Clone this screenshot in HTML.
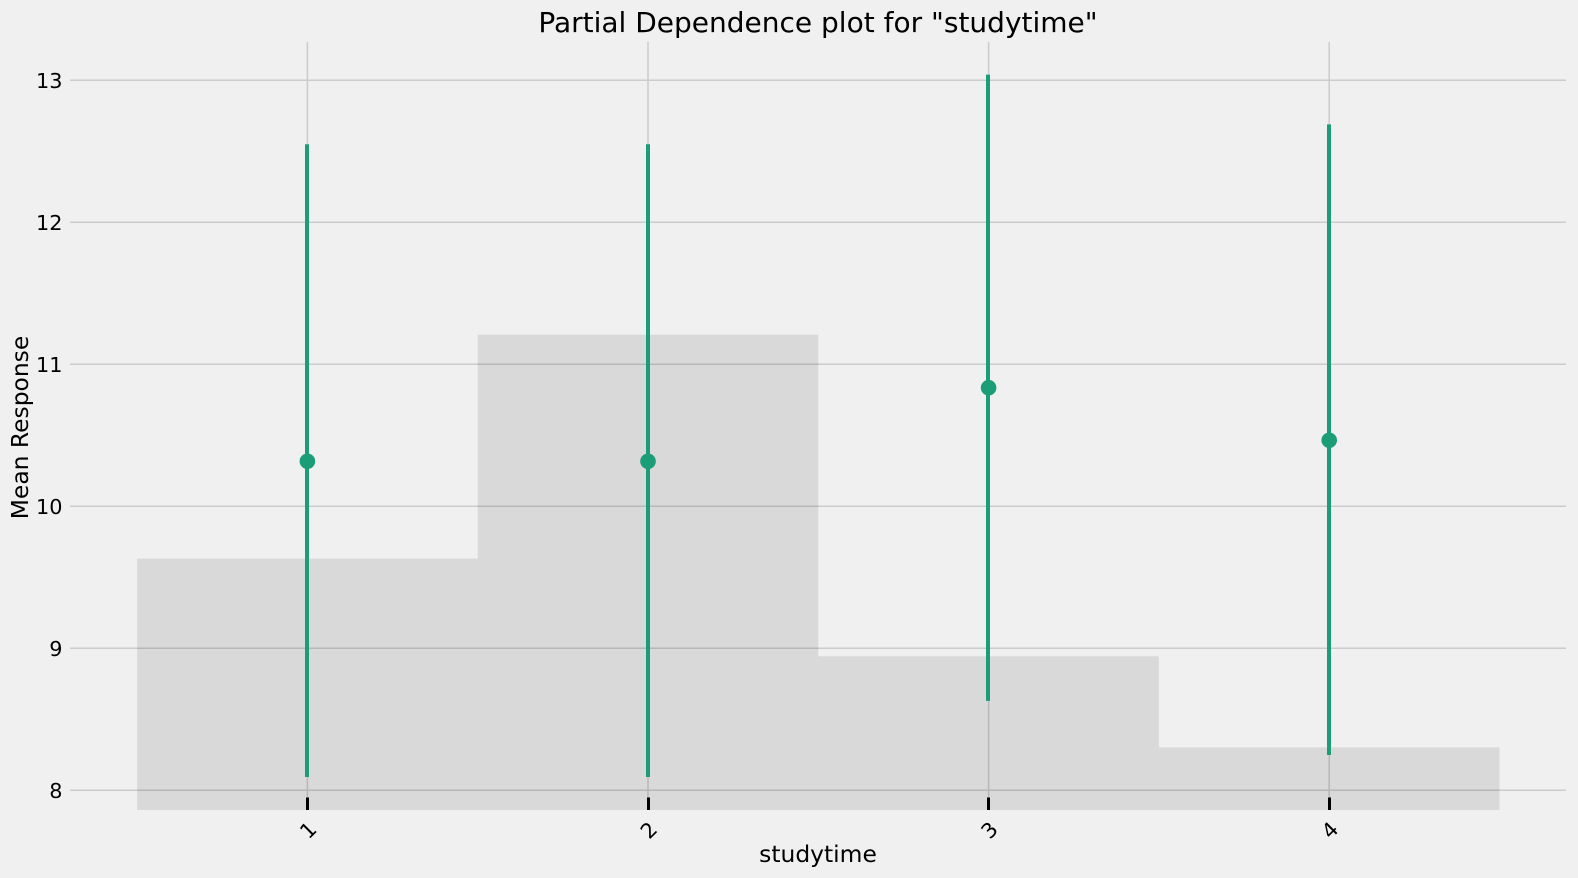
<!DOCTYPE html>
<html lang="en">
<head>
<meta charset="utf-8">
<title>Partial Dependence plot for "studytime"</title>
<style>
html,body{margin:0;padding:0;background:#f0f0f0;width:1578px;height:878px;overflow:hidden}
svg{display:block;font-family:"DejaVu Sans","Liberation Sans",sans-serif}
</style>
</head>
<body>
<svg id="chart" xmlns="http://www.w3.org/2000/svg" width="1578" height="878" viewBox="0 0 1578 878">
  <rect x="0" y="0" width="1578" height="878" fill="#f0f0f0"/>
  <g id="grid"></g>
  <g id="bars"></g>
  <g id="ticks"></g>
  <g id="errors"></g>
  <g id="points"></g>
  <g id="xlabels"></g>
  <g id="ylabels"></g>
  <text x="818" y="32" text-anchor="middle" font-size="28" fill="#000">Partial Dependence plot for "studytime"</text>
  <text x="818" y="862" text-anchor="middle" font-size="23.4" fill="#000">studytime</text>
  <text transform="translate(28,427.5) rotate(-90)" text-anchor="middle" font-size="23.4" fill="#000">Mean Response</text>
</svg>
<script>
const categories = [1, 2, 3, 4];
const meanResponse = [10.317, 10.317, 10.835, 10.465];
const lowerBound = [8.094, 8.094, 8.63, 8.249];
const upperBound = [12.55, 12.55, 13.04, 12.69];
const rowSharePct = [26.5, 50.1, 16.2, 6.6];
const yTicks = [8, 9, 10, 11, 12, 13];

const NS = 'http://www.w3.org/2000/svg';
const plotLeft = 70, plotRight = 1566, plotTop = 42, plotBottom = 810;

function xScale(v) { return 307.4 + (v - 1) * 340.6; }
function yScale(v) { return 790.3 - (v - 8) * 142; }
function shareScale(v) { return plotBottom - v * 9.487; }

function make(tag, parentId, attrs, text) {
  const el = document.createElementNS(NS, tag);
  for (const k in attrs) el.setAttribute(k, attrs[k]);
  if (text !== undefined) el.textContent = text;
  document.getElementById(parentId).appendChild(el);
  return el;
}

categories.forEach(function (c) {
  const x = xScale(c);
  const el = make('line', 'grid', { x1: x, x2: x, y1: plotTop, y2: plotBottom, stroke: '#cbcbcb', 'stroke-width': 1.5 });
  
  
});

yTicks.forEach(function (t) {
  const y = yScale(t);
  const line = make('line', 'grid', { x1: plotLeft, x2: plotRight, y1: y, y2: y, stroke: '#cbcbcb', 'stroke-width': 1.5 });
  
  
  const label = make('text', 'ylabels', { x: 62.5, y: y + 7.5, 'text-anchor': 'end', 'font-size': 20.8, fill: '#000' }, String(t));
  
  
});

categories.forEach(function (c, i) {
  const x = xScale(c);

  const left = xScale(c - 0.5);
  const right = xScale(c + 0.5);
  const top = shareScale(rowSharePct[i]);
  const bar = make('rect', 'bars', { x: left, y: top, width: right - left, height: plotBottom - top, fill: '#000', 'fill-opacity': 0.095 });
  
  

  const tickX = Math.round(x - 0.4) + 0.5;
  const tick = make('line', 'ticks', { x1: tickX, x2: tickX, y1: 797.5, y2: plotBottom, stroke: '#000', 'stroke-width': 3 });
  
  

  const errX = Math.round(x - 0.4);
  const err = make('line', 'errors', { x1: errX, x2: errX, y1: yScale(upperBound[i]), y2: yScale(lowerBound[i]), stroke: '#1b9e77', 'stroke-width': 4 });
  
  

  const point = make('circle', 'points', { cx: x, cy: yScale(meanResponse[i]), r: 7.8, fill: '#1b9e77' });
  
  

  const tickLabel = make('text', 'xlabels', { x: 0, y: 7.5, transform: 'translate(' + (x + 0.6) + ',830) rotate(-45)', 'text-anchor': 'middle', 'font-size': 20.8, fill: '#000' }, String(c));
  
  
});
</script>
</body>
</html>
